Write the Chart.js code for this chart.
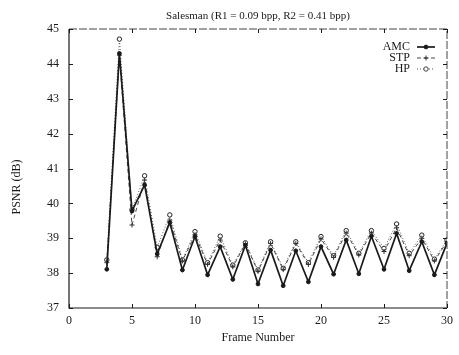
<!DOCTYPE html>
<html>
<head>
<meta charset="utf-8">
<title>Salesman PSNR</title>
<script src="https://cdn.jsdelivr.net/npm/chart.js@4.4.1/dist/chart.umd.min.js"></script>
<style>
  html, body { margin: 0; padding: 0; background: #fff; }
  #wrap { width: 459px; height: 355px; }
</style>
</head>
<body>
<div id="wrap"><canvas id="psnr" width="459" height="355"></canvas></div>
<script>
// frame numbers and PSNR values (dB)
const frames = [3, 4, 5, 6, 7, 8, 9, 10, 11, 12, 13, 14, 15, 16, 17, 18, 19, 20, 21, 22, 23, 24, 25, 26, 27, 28, 29, 30];
const amc = [38.11, 44.30, 39.78, 40.53, 38.55, 39.45, 38.09, 39.05, 37.95, 38.76, 37.82, 38.80, 37.69, 38.66,
             37.64, 38.64, 37.75, 38.76, 37.97, 38.95, 37.98, 39.06, 38.11, 39.14, 38.07, 38.90, 37.95, 38.86];
const stp = [38.30, 44.25, 39.38, 40.67, 38.47, 39.52, 38.35, 39.10, 38.25, 38.95, 38.18, 38.84, 38.05, 38.85,
             38.10, 38.85, 38.25, 38.98, 38.45, 39.15, 38.52, 39.15, 38.62, 39.30, 38.50, 39.00, 38.35, 38.90];
const hp  = [38.38, 44.71, 39.82, 40.79, 38.74, 39.67, 38.38, 39.19, 38.30, 39.06, 38.23, 38.87, 38.09, 38.90,
             38.14, 38.90, 38.30, 39.05, 38.50, 39.22, 38.57, 39.22, 38.71, 39.41, 38.57, 39.09, 38.40, 38.95];
const xTicks = [0, 5, 10, 15, 20, 25, 30];
const yTicks = [37, 38, 39, 40, 41, 42, 43, 44, 45];

const serif = "'Liberation Serif', 'DejaVu Serif', serif";
const ink = '#1a1a1a';

function pts(ys) {
  return frames.map((f, i) => ({ x: f, y: ys[i] }));
}

// box, inward ticks, titles and legend drawn on top of the chart
const framePlugin = {
  id: 'framePlugin',
  afterDraw(chart) {
    const ctx = chart.ctx;
    const a = chart.chartArea;
    const xs = chart.scales.x, ys = chart.scales.y;
    ctx.save();
    ctx.strokeStyle = ink;
    ctx.lineWidth = 1.2;
    ctx.beginPath();
    ctx.moveTo(a.left, a.top);
    ctx.lineTo(a.left, a.bottom);
    ctx.lineTo(a.right, a.bottom);
    ctx.stroke();
    ctx.strokeStyle = '#444';
    ctx.lineWidth = 1;
    ctx.setLineDash([8, 2]);
    ctx.beginPath();
    ctx.moveTo(a.left, a.top);
    ctx.lineTo(a.right, a.top);
    ctx.lineTo(a.right, a.bottom);
    ctx.stroke();
    ctx.setLineDash([]);
    ctx.strokeStyle = ink;
    ctx.beginPath();
    yTicks.forEach(v => {
      const y = Math.round(ys.getPixelForValue(v)) + 0.5;
      ctx.moveTo(a.left, y); ctx.lineTo(a.left + 4, y);
      ctx.moveTo(a.right, y); ctx.lineTo(a.right - 4, y);
    });
    xTicks.forEach(v => {
      const x = Math.round(xs.getPixelForValue(v)) + 0.5;
      ctx.moveTo(x, a.bottom); ctx.lineTo(x, a.bottom - 4);
      ctx.moveTo(x, a.top); ctx.lineTo(x, a.top + 4);
    });
    ctx.stroke();

    // title
    ctx.fillStyle = ink;
    ctx.font = '11px ' + serif;
    ctx.textAlign = 'center';
    ctx.textBaseline = 'middle';
    ctx.fillText('Salesman (R1 = 0.09 bpp, R2 = 0.41 bpp)', (a.left + a.right) / 2, 16);

    // y axis title, set a little below the middle as in the original
    ctx.save();
    ctx.translate(17, 187);
    ctx.rotate(-Math.PI / 2);
    ctx.font = '12px ' + serif;
    ctx.fillText('PSNR (dB)', 0, 0);
    ctx.restore();

    // legend in the upper right corner
    ctx.font = '12px ' + serif;
    ctx.textAlign = 'right';
    chart.data.datasets.forEach((ds, i) => {
      const y = a.top + 18 + i * 11;
      const x1 = a.right - 30, x2 = a.right - 12;
      ctx.fillStyle = ink;
      ctx.fillText(ds.label, x1 - 7, y);
      ctx.strokeStyle = ds.borderColor;
      ctx.lineWidth = ds.borderWidth;
      ctx.setLineDash(ds.borderDash || []);
      ctx.beginPath();
      ctx.moveTo(x1, y); ctx.lineTo(x2, y);
      ctx.stroke();
      ctx.setLineDash([]);
      ctx.lineWidth = 1;
      const cx = (x1 + x2) / 2;
      ctx.beginPath();
      if (ds.pointStyle === 'cross') {
        ctx.moveTo(cx - 2.5, y); ctx.lineTo(cx + 2.5, y);
        ctx.moveTo(cx, y - 2.5); ctx.lineTo(cx, y + 2.5);
        ctx.stroke();
      } else {
        ctx.arc(cx, y, ds.pointRadius, 0, Math.PI * 2);
        ctx.fillStyle = ds.pointBackgroundColor;
        ctx.fill();
        ctx.stroke();
      }
    });
    ctx.restore();
  }
};

new Chart(document.getElementById('psnr'), {
  type: 'line',
  data: {
    datasets: [
      { label: 'AMC', data: pts(amc), borderColor: ink, borderWidth: 1.7,
        pointStyle: 'circle', pointRadius: 1.9, pointBackgroundColor: ink, pointBorderColor: ink, pointBorderWidth: 1 },
      { label: 'STP', data: pts(stp), borderColor: '#333', borderWidth: 0.9, borderDash: [4, 3],
        pointStyle: 'cross', pointRadius: 2.5, pointBackgroundColor: '#333', pointBorderColor: '#333', pointBorderWidth: 1 },
      { label: 'HP', data: pts(hp), borderColor: '#444', borderWidth: 0.9, borderDash: [1, 2],
        pointStyle: 'circle', pointRadius: 2.2, pointBackgroundColor: '#fff', pointBorderColor: '#222', pointBorderWidth: 1 }
    ]
  },
  options: {
    responsive: false,
    animation: false,
    events: [],
    layout: { padding: { top: 29, right: 9, left: 0, bottom: 0 } },
    elements: { line: { tension: 0 } },
    plugins: {
      legend: { display: false },
      title: { display: false },
      tooltip: { enabled: false }
    },
    scales: {
      x: {
        type: 'linear', min: 0, max: 30,
        afterBuildTicks: s => { s.ticks = xTicks.map(v => ({ value: v })); },
        afterFit: s => { s.height = 47; },
        grid: { display: false, drawTicks: false },
        border: { display: false },
        ticks: { color: ink, font: { family: serif, size: 12 }, padding: 6, maxRotation: 0 },
        title: { display: true, text: 'Frame Number', color: ink, font: { family: serif, size: 12 }, padding: { bottom: 10 } }
      },
      y: {
        type: 'linear', min: 37, max: 45,
        afterBuildTicks: s => { s.ticks = yTicks.map(v => ({ value: v })); },
        afterFit: s => { s.width = 69; },
        grid: { display: false, drawTicks: false },
        border: { display: false },
        ticks: { color: ink, font: { family: serif, size: 12 }, padding: 10 },
        title: { display: false }
      }
    }
  },
  plugins: [framePlugin]
});
</script>
</body>
</html>
